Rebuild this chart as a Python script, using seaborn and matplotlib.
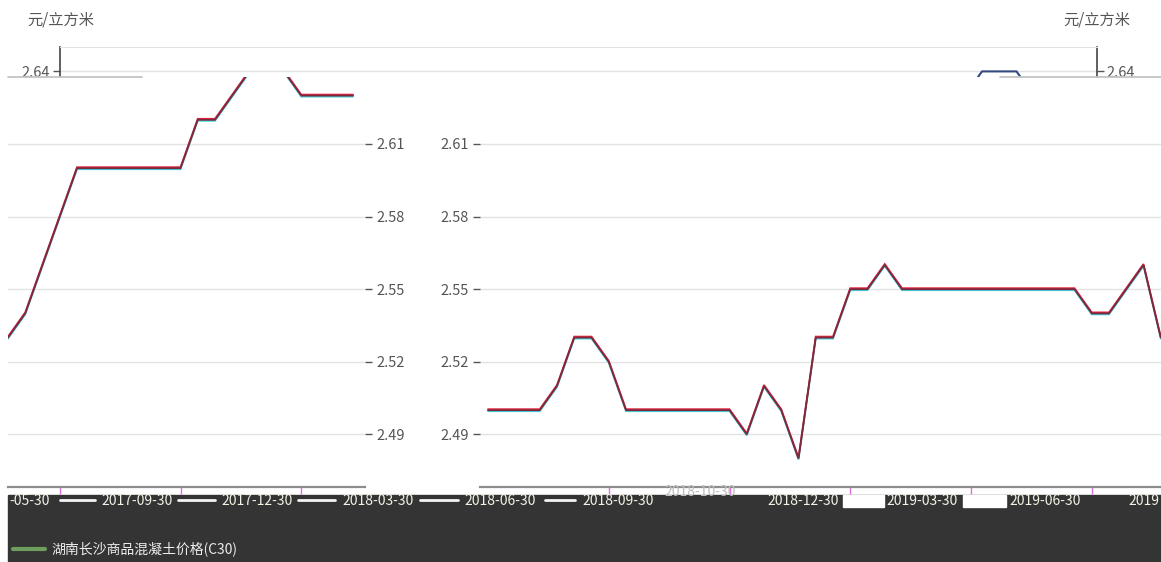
"""
concrete price line chart (glitched two-panel screenshot)
"""

import matplotlib
matplotlib.use('AGG')
import matplotlib.pyplot as plt
from matplotlib.lines import Line2D
from matplotlib.patches import Rectangle
from matplotlib.transforms import offset_copy
import seaborn as sns

# ---- data ----
unit = '元/立方米'
left_price = [2.53, 2.54, 2.56, 2.58, 2.60, 2.60, 2.60, 2.60, 2.60, 2.60, 2.60,
              2.62, 2.62, 2.63, 2.64, 2.64, 2.64, 2.63, 2.63, 2.63, 2.63]
right_price = [2.50, 2.50, 2.50, 2.50, 2.51, 2.53, 2.53, 2.52, 2.50, 2.50,
               2.50, 2.50, 2.50, 2.50, 2.50, 2.49, 2.51, 2.50, 2.48, 2.53,
               2.53, 2.55, 2.55, 2.56, 2.55, 2.55, 2.55, 2.55, 2.55, 2.55,
               2.55, 2.55, 2.55, 2.55, 2.55, 2.54, 2.54, 2.55, 2.56, 2.53]
strip_idx = [-1, 0, 1, 2, 3]
strip_price = [2.63, 2.64, 2.64, 2.64, 2.63]
y_ticks = [2.49, 2.52, 2.55, 2.58, 2.61]
top_tick = [2.64]
date_labels = ['-05-30', '2017-09-30', '2017-12-30', '2018-03-30', '2018-06-30',
               '2018-09-30', '2018-10-30', '2018-12-30', '2019-03-30', '2019-06-30', '2019']
legend_label = '湖南长沙商品混凝土价格(C30)'

# ---- layout ----
W, H = 1161, 562
STEP = 17.25          # px per data point
PX_PER_UNIT = 2420.0  # px per 1.0 of price


def val_at(py):
    return 2.61 - (py - 144) / PX_PER_UNIT


sns.set_style('white')
plt.rcParams['font.family'] = ['Noto Sans CJK SC', 'DejaVu Sans']
plt.rcParams['axes.unicode_minus'] = False

fig = plt.figure(figsize=(W / 100, H / 100), dpi=100)


def box(l, t, w, h):
    return fig.add_axes([l / W, 1 - (t + h) / H, w / W, h / H])


def draw_line(ax, x, y, core):
    # red/cyan fringes around the core line, like the screenshot
    for col, dy in [('#3fd3e0', -1), ('#e3243c', 1), (core, 0)]:
        sns.lineplot(x=x, y=y, ax=ax, color=col, lw=1.3, legend=False)
        ln = ax.lines[-1]
        ln.set_transform(offset_copy(ax.transData, fig=fig, x=0, y=dy, units='dots'))
        ln.set_solid_joinstyle('miter')


grid_col = '#e3e3e3'
text_col = '#555555'

# left panel (ticks on the right)
axl = box(8, 77, 357, 410)
draw_line(axl, list(range(len(left_price))), left_price, '#7a2a3c')
axl.set_xlim(0, 357 / STEP)
axl.set_ylim(val_at(487), val_at(77))
axl.set_yticks(y_ticks)
axl.set_yticklabels([f'{v:.2f}' for v in y_ticks])
axl.yaxis.tick_right()
axl.grid(axis='y', color=grid_col, lw=1)
axl.set_xticks([3, 10, 17])
axl.set_xticklabels([])
axl.tick_params(axis='y', right=True, length=5, width=1, color=text_col,
                labelcolor=text_col, labelsize=10.5, pad=3)
axl.tick_params(axis='x', bottom=True, length=5, width=1, color='#e070e0')
for s in ['top', 'left', 'right']:
    axl.spines[s].set_visible(False)
axl.spines['bottom'].set_color('#8c8c8c')
axl.spines['bottom'].set_linewidth(1.6)
axl.set_xlabel('')
axl.set_ylabel('')

# right panel (ticks on the left)
axr = box(480, 77, 681, 410)
draw_line(axr, list(range(len(right_price))), right_price, '#7a2a3c')
axr.set_xlim(-8 / STEP, 673 / STEP)
axr.set_ylim(val_at(487), val_at(77))
axr.set_yticks(y_ticks)
axr.set_yticklabels([f'{v:.2f}' for v in y_ticks])
axr.grid(axis='y', color=grid_col, lw=1)
axr.set_xticks([7, 14, 21, 28, 35])
axr.set_xticklabels([])
axr.tick_params(axis='y', left=True, length=5, width=1, color=text_col,
                labelcolor=text_col, labelsize=10.5, pad=3)
axr.tick_params(axis='x', bottom=True, length=5, width=1, color='#e070e0')
for s in ['top', 'left', 'right']:
    axr.spines[s].set_visible(False)
axr.spines['bottom'].set_color('#8c8c8c')
axr.spines['bottom'].set_linewidth(1.6)
axr.set_xlabel('')
axr.set_ylabel('')

# top strip with 2.64 on both sides
axt = box(60, 47, 1037, 30)
sns.lineplot(x=strip_idx, y=strip_price, ax=axt, color='#34497f', lw=1.5, legend=False)
axt.set_xlim((60 - 982) / STEP, (1097 - 982) / STEP)
axt.set_ylim(val_at(77), val_at(47))
axt.set_yticks(top_tick)
axt.set_yticklabels(['2.64'])
axt.set_xticks([])
axt.grid(axis='y', color=grid_col, lw=1)
axt.tick_params(axis='y', left=True, right=True, labelleft=True, labelright=True,
                length=5, width=1, color=text_col, labelcolor=text_col,
                labelsize=10.5, pad=2)
axt.spines['bottom'].set_visible(False)
axt.spines['top'].set_color(grid_col)
for s in ['left', 'right']:
    axt.spines[s].set_color('#444444')
    axt.spines[s].set_linewidth(1.2)
axt.set_xlabel('')
axt.set_ylabel('')

# grey edges at y=77
for x0, x1 in [(8, 142), (1000, 1161)]:
    fig.add_artist(Line2D([x0 / W, x1 / W], [1 - 77 / H] * 2, color='#c4c4c4', lw=1.3))

# unit labels
fig.text(27 / W, 1 - 20 / H, unit, color=text_col, fontsize=11, va='center', ha='left')
fig.text(1130 / W, 1 - 20 / H, unit, color=text_col, fontsize=11, va='center', ha='right')

# dark band at the bottom
fig.add_artist(Rectangle((8 / W, 0), (W - 8) / W, (H - 495) / H,
                         transform=fig.transFigure, color='#343434', zorder=1))
for x0, x1 in [(843, 884), (963, 1006)]:
    fig.add_artist(Rectangle((x0 / W, 1 - 507 / H), (x1 - x0) / W, 12 / H,
                             transform=fig.transFigure, color='white', zorder=2))
for x0, x1 in [(60, 95), (178, 215), (298, 335), (420, 458), (545, 575)]:
    fig.add_artist(Line2D([x0 / W, x1 / W], [1 - 500 / H] * 2, color='#f4f4f4', lw=2, zorder=2))

label_x = [30, 137, 257, 378, 500, 618, 700, 803, 922, 1045, 1128]
for i, (lx, lab) in enumerate(zip(label_x, date_labels)):
    col = '#bdbdbd' if lx == 700 else '#f2f2e4'
    ly = 492 if lx == 700 else 501
    ha = 'left' if i == len(label_x) - 1 else 'center'
    fig.text(lx / W, 1 - ly / H, lab, color=col, fontsize=10, ha=ha,
             va='center', zorder=3)

fig.legend(handles=[Line2D([], [], color='#6e9e5e', lw=3)], labels=[legend_label],
           loc='center left', bbox_to_anchor=(13 / W, 1 - 549 / H), frameon=False,
           labelcolor='#ececec', fontsize=10, handlelength=2.3, handletextpad=0.5,
           borderaxespad=0, borderpad=0)

fig.savefig('out.png', dpi=100)
plt.close()
